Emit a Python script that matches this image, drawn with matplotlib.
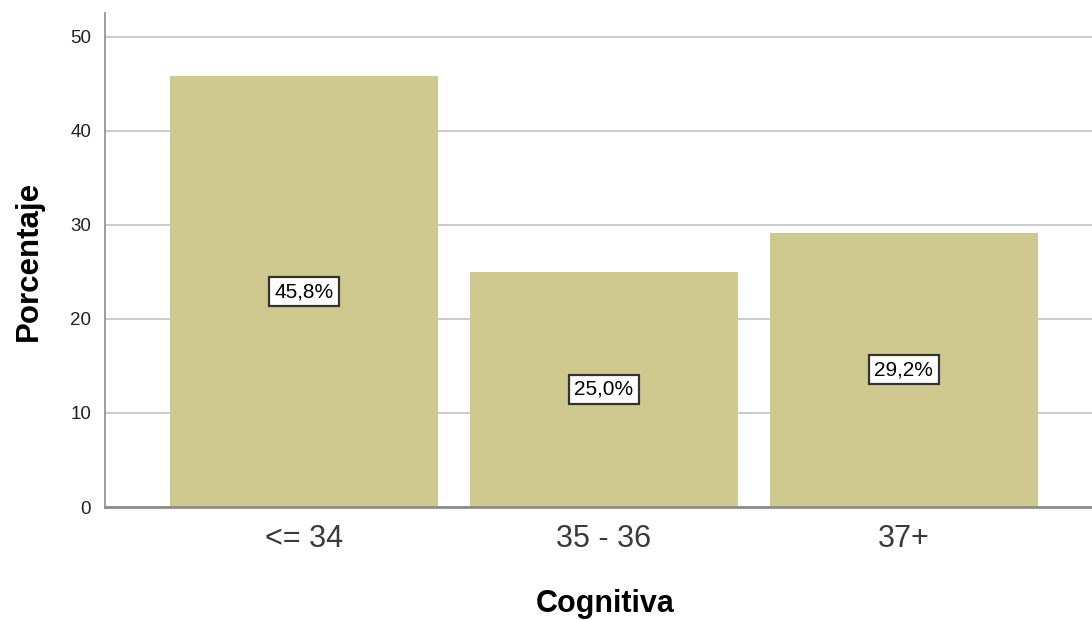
import matplotlib
matplotlib.use("Agg")
import matplotlib.pyplot as plt

plt.rcParams['font.family'] = ['Liberation Sans', 'DejaVu Sans']

# Data
categories = ['<= 34', '35 - 36', '37+']
percentages = [45.8, 25.0, 29.2]
y_ticks = [0, 10, 20, 30, 40, 50]

bar_color = '#d0c98f'
grid_color = '#c6c6c6'
spine_color = '#8c8c8c'

fig = plt.figure(figsize=(10.92, 6.2), dpi=100)
ax = fig.add_axes([105 / 1092, 1 - 507 / 620, 1 - 105 / 1092, (507 - 13) / 620])

x = list(range(len(categories)))
ax.bar(x, percentages, width=0.893, color=bar_color, zorder=2)

# labels in boxes at half the bar height
for xi, v in zip(x, percentages):
    txt = f"{v:.1f}%".replace('.', ',')
    ax.text(xi, v / 2, txt, ha='center', va='center', fontsize=15, color='black', zorder=4,
            bbox=dict(boxstyle='square,pad=0.25', facecolor='white', edgecolor='#333333', linewidth=1.6))

ax.set_xlim(-0.663, 2.627)
ax.set_ylim(0, 52.55)
ax.set_yticks(y_ticks)
ax.set_xticks(x)
ax.set_xticklabels(categories, fontsize=22, color='#3a3a3a')
ax.tick_params(axis='y', length=0, pad=10, labelsize=13.5, labelcolor='#222222')
ax.tick_params(axis='x', length=0, pad=12)

ax.yaxis.grid(True, color=grid_color, linewidth=1.3, zorder=0)
ax.set_axisbelow(True)

for side in ['top', 'right']:
    ax.spines[side].set_visible(False)
ax.spines['left'].set_color(spine_color)
ax.spines['left'].set_linewidth(1.2)
ax.spines['bottom'].set_color(spine_color)
ax.spines['bottom'].set_linewidth(2.0)
ax.spines['bottom'].set_zorder(3)

fig.text(605 / 1092, 1 - 604 / 620, 'Cognitiva', ha='center', va='center', fontsize=22, fontweight='bold')
fig.text(29 / 1092, 1 - 261 / 620, 'Porcentaje', ha='center', va='center', rotation=90,
         fontsize=22.5, fontweight='bold')

fig.savefig('out.png', dpi=100)
